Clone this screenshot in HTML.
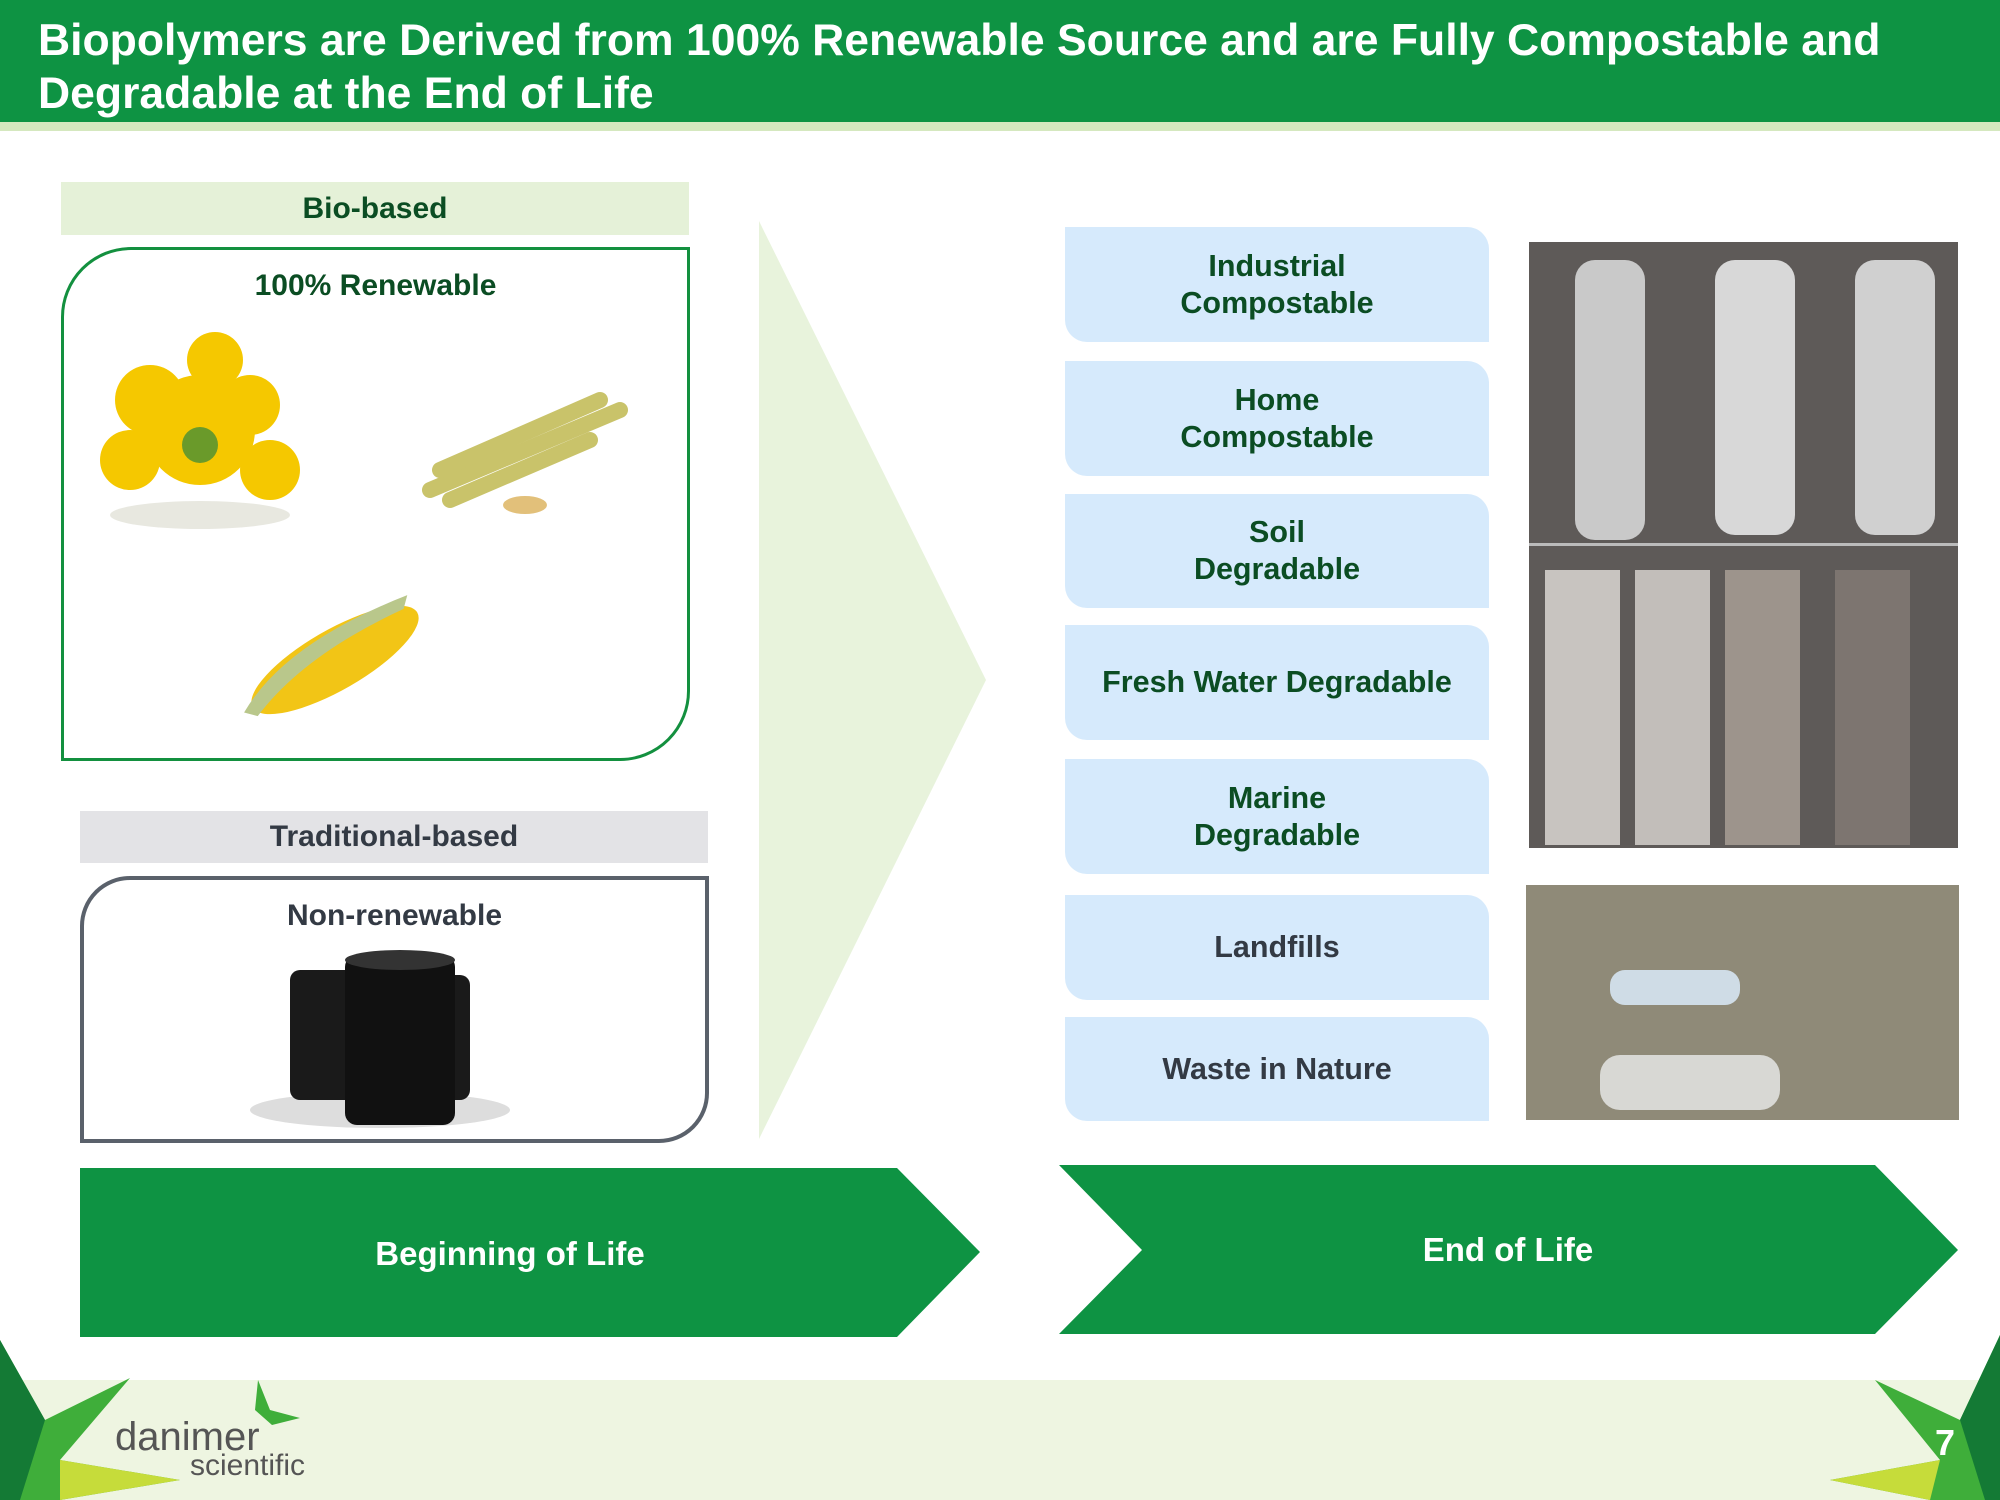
<!DOCTYPE html>
<html><head><meta charset="utf-8"><style>
*{margin:0;padding:0;box-sizing:border-box}
body{width:2000px;height:1500px;position:relative;overflow:hidden;background:#fff;font-family:"Liberation Sans",Arial,sans-serif}
.abs{position:absolute}
.hdr{left:0;top:0;width:2000px;height:122px;background:#0e9343}
.hdr2{left:0;top:122px;width:2000px;height:9px;background:#d5e8bf}
.title{left:38px;top:14px;color:#fff;font-weight:bold;font-size:44.5px;line-height:53px}
.lbl{display:flex;align-items:center;justify-content:center;font-weight:bold;font-size:30px}
.eol{left:1065px;width:424px;background:#d6eafc;border-radius:0 22px 0 22px;display:flex;align-items:center;justify-content:center;text-align:center;font-weight:bold;font-size:30.5px;line-height:37px;color:#0b4d23}
.gray{color:#333a44}
</style></head><body>
<div class="abs hdr"></div><div class="abs hdr2"></div>
<div class="abs title">Biopolymers are Derived from 100% Renewable Source and are Fully Compostable and<br>Degradable at the End of Life</div>

<div class="abs lbl" style="left:61px;top:182px;width:628px;height:53px;background:#e5f1d8;color:#0b4d23">Bio-based</div>
<div class="abs" style="left:61px;top:247px;width:629px;height:514px;border:3px solid #13903f;border-radius:70px 0 70px 0"></div>
<div class="abs lbl" style="left:61px;top:266px;width:629px;height:40px;color:#0b4d23">100% Renewable</div>

<div class="abs lbl" style="left:80px;top:811px;width:628px;height:52px;background:#e3e3e6;color:#333a44">Traditional-based</div>
<div class="abs" style="left:80px;top:876px;width:629px;height:267px;border:4px solid #5a616b;border-radius:50px 0 50px 0"></div>
<div class="abs lbl" style="left:80px;top:896px;width:629px;height:40px;color:#333a44">Non-renewable</div>

<svg class="abs" style="left:0;top:0" width="2000" height="1500">
<polygon points="759,221 986,680 759,1139" fill="#e8f3dc"/>
<g fill="#f5c800">
<circle cx="200" cy="430" r="55"/><circle cx="150" cy="400" r="35"/><circle cx="250" cy="405" r="30"/><circle cx="215" cy="360" r="28"/><circle cx="130" cy="460" r="30"/><circle cx="270" cy="470" r="30"/>
</g>
<circle cx="200" cy="445" r="18" fill="#6a9a2a"/>
<ellipse cx="200" cy="515" rx="90" ry="14" fill="#e8e8e0"/>
<g stroke="#c9c36a" stroke-width="16" stroke-linecap="round">
<line x1="430" y1="490" x2="620" y2="410"/><line x1="440" y1="470" x2="600" y2="400"/><line x1="450" y1="500" x2="590" y2="440"/>
</g>
<ellipse cx="525" cy="505" rx="22" ry="9" fill="#e2c07a"/>
<g transform="rotate(-30 335 660)">
<ellipse cx="335" cy="660" rx="95" ry="30" fill="#f2c516"/>
<path d="M230 660 Q300 620 430 640 L420 650 Q310 640 240 670Z" fill="#b9c78b"/>
</g>
<ellipse cx="380" cy="1110" rx="130" ry="18" fill="#ddd"/>
<rect x="290" y="970" width="80" height="130" rx="10" fill="#1a1a1a"/>
<rect x="400" y="975" width="70" height="125" rx="10" fill="#1a1a1a"/>
<rect x="345" y="955" width="110" height="170" rx="12" fill="#111"/>
<ellipse cx="400" cy="960" rx="55" ry="10" fill="#333"/>
<polygon points="80,1168 897,1168 980,1252 897,1337 80,1337" fill="#0e9343"/>
<polygon points="1059,1165 1875,1165 1958,1250 1875,1334 1059,1334 1142,1250" fill="#0e9343"/>
<text x="510" y="1265" fill="#fff" font-size="33" font-weight="bold" text-anchor="middle" font-family="Liberation Sans, sans-serif">Beginning of Life</text>
<text x="1508" y="1261" fill="#fff" font-size="33" font-weight="bold" text-anchor="middle" font-family="Liberation Sans, sans-serif">End of Life</text>
<rect x="0" y="1380" width="2000" height="120" fill="#eef5e1"/>
<polygon points="0,1340 45,1420 130,1378 60,1460 180,1480 60,1500 0,1500" fill="#3fae3a"/>
<polygon points="0,1340 45,1420 20,1500 0,1500" fill="#147a35"/>
<polygon points="60,1460 180,1480 60,1500" fill="#c6dc3a"/>
<polygon points="2000,1335 1960,1420 1875,1380 1940,1460 1830,1480 1930,1500 2000,1500" fill="#3fae3a"/>
<polygon points="2000,1335 1960,1420 1985,1500 2000,1500" fill="#147a35"/>
<polygon points="1940,1460 1830,1480 1930,1500" fill="#c6dc3a"/>
<text x="1945" y="1455" fill="#fff" font-size="36" font-weight="bold" text-anchor="middle" font-family="Liberation Sans, sans-serif">7</text>
<polygon points="258,1380 270,1410 300,1418 272,1425 255,1410" fill="#3fae3a"/>
<text x="115" y="1450" fill="#555" font-size="40" font-family="Liberation Sans, sans-serif">danimer</text>
<text x="190" y="1475" fill="#555" font-size="30" font-family="Liberation Sans, sans-serif">scientific</text>
</svg>

<div class="abs eol" style="top:227px;height:115px">Industrial<br>Compostable</div>
<div class="abs eol" style="top:361px;height:115px">Home<br>Compostable</div>
<div class="abs eol" style="top:494px;height:114px">Soil<br>Degradable</div>
<div class="abs eol" style="top:625px;height:115px">Fresh Water Degradable</div>
<div class="abs eol" style="top:759px;height:115px">Marine<br>Degradable</div>
<div class="abs eol gray" style="top:895px;height:105px">Landfills</div>
<div class="abs eol gray" style="top:1017px;height:104px">Waste in Nature</div>

<div class="abs" style="left:1529px;top:242px;width:429px;height:606px;background:#5e5a58"></div>
<div class="abs" style="left:1575px;top:260px;width:70px;height:280px;background:#c9c9c9;border-radius:20px"></div>
<div class="abs" style="left:1715px;top:260px;width:80px;height:275px;background:#d8d8d8;border-radius:20px"></div>
<div class="abs" style="left:1855px;top:260px;width:80px;height:275px;background:#d0d0d0;border-radius:20px"></div>
<div class="abs" style="left:1529px;top:543px;width:429px;height:3px;background:#bbb"></div>
<div class="abs" style="left:1545px;top:570px;width:75px;height:275px;background:#c8c4c0"></div>
<div class="abs" style="left:1635px;top:570px;width:75px;height:275px;background:#c2beba"></div>
<div class="abs" style="left:1725px;top:570px;width:75px;height:275px;background:#9d948c"></div>
<div class="abs" style="left:1835px;top:570px;width:75px;height:275px;background:#7d7570"></div>
<div class="abs" style="left:1526px;top:885px;width:433px;height:235px;background:#8f8a78"></div>
<div class="abs" style="left:1610px;top:970px;width:130px;height:35px;background:#cfdce6;border-radius:15px"></div>
<div class="abs" style="left:1600px;top:1055px;width:180px;height:55px;background:#d8d8d4;border-radius:20px"></div>
</body></html>
